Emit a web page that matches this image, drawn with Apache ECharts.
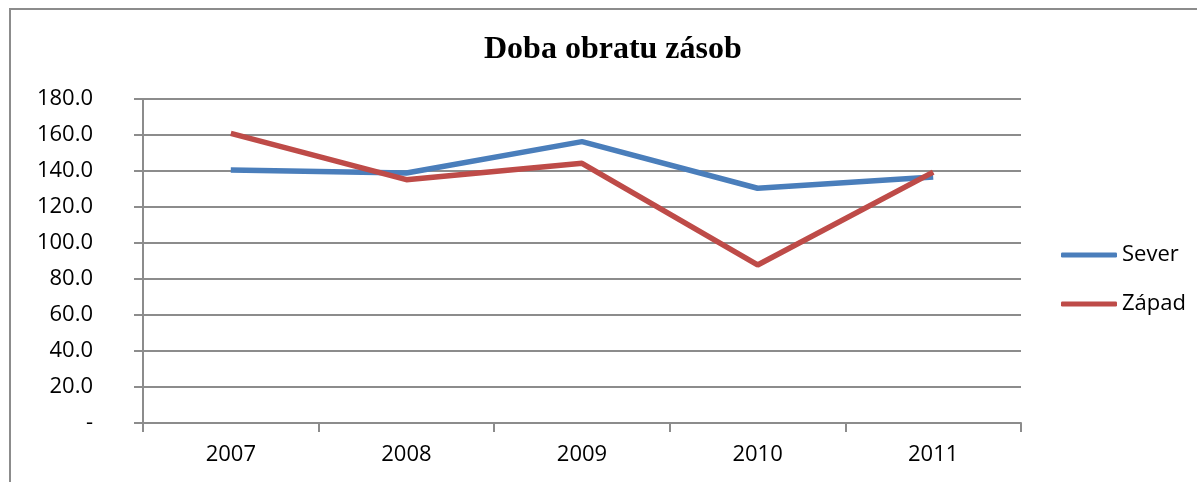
<!DOCTYPE html>
<html>
<head>
<meta charset="utf-8">
<script src="https://cdn.jsdelivr.net/npm/echarts@6/dist/echarts.min.js"></script>
<style>
  html, body { margin: 0; padding: 0; background: #fff; }
  #chart { width: 1197px; height: 482px; }
</style>
</head>
<body>
<div id="chart"></div>
<script>
const years = ['2007', '2008', '2009', '2010', '2011'];
const sever = [140.6, 138.9, 156.3, 130.4, 136.7];
const zapad = [160.9, 135.2, 144.3, 87.8, 139.4];

const chart = echarts.init(document.getElementById('chart'));
const baseFont = '"Open Sans", "Liberation Sans", sans-serif';

chart.setOption({
  animation: false,
  backgroundColor: '#fff',
  title: {
    text: 'Doba obratu zásob',
    left: 484,
    top: 34,
    padding: 0,
    textStyle: {
      fontFamily: '"Liberation Serif", "Times New Roman", serif',
      fontWeight: 'bold',
      fontSize: 32,
      color: '#000'
    }
  },
  graphic: [{
    type: 'rect',
    shape: { x: 10, y: 9, width: 1300, height: 600 },
    style: { fill: 'none', stroke: '#8c8c8c', lineWidth: 2 },
    silent: true
  }],
  legend: {
    orient: 'vertical',
    left: 1061,
    top: 244,
    padding: 0,
    itemWidth: 56,
    itemHeight: 5,
    itemGap: 27,
    icon: 'roundRect',
    textStyle: { fontFamily: baseFont, fontSize: 22, color: '#000', lineHeight: 22 },
    data: ['Sever', 'Západ']
  },
  grid: { left: 143, right: 176, top: 99, bottom: 59 },
  xAxis: {
    type: 'category',
    data: years,
    boundaryGap: true,
    axisLine: { lineStyle: { color: '#8c8c8c', width: 2 } },
    axisTick: { show: true, length: 9, lineStyle: { color: '#8c8c8c', width: 2 } },
    axisLabel: { margin: 21, fontFamily: baseFont, fontSize: 22, color: '#000' }
  },
  yAxis: {
    type: 'value',
    min: 0,
    max: 180,
    interval: 20,
    axisLine: { show: true, lineStyle: { color: '#8c8c8c', width: 2 } },
    axisTick: { show: true, length: 9, lineStyle: { color: '#8c8c8c', width: 2 } },
    axisLabel: {
      margin: 50,
      fontFamily: baseFont,
      fontSize: 22,
      color: '#000',
      formatter: v => (v === 0 ? '-' : v.toFixed(1))
    },
    splitLine: { lineStyle: { color: '#8c8c8c', width: 2 } }
  },
  series: [
    {
      name: 'Sever',
      type: 'line',
      data: sever,
      symbol: 'none',
      color: '#4a7ebb',
      lineStyle: { width: 5.5, color: '#4a7ebb' }
    },
    {
      name: 'Západ',
      type: 'line',
      data: zapad,
      symbol: 'none',
      color: '#be4b48',
      lineStyle: { width: 5.5, color: '#be4b48' }
    }
  ]
});
</script>
</body>
</html>
